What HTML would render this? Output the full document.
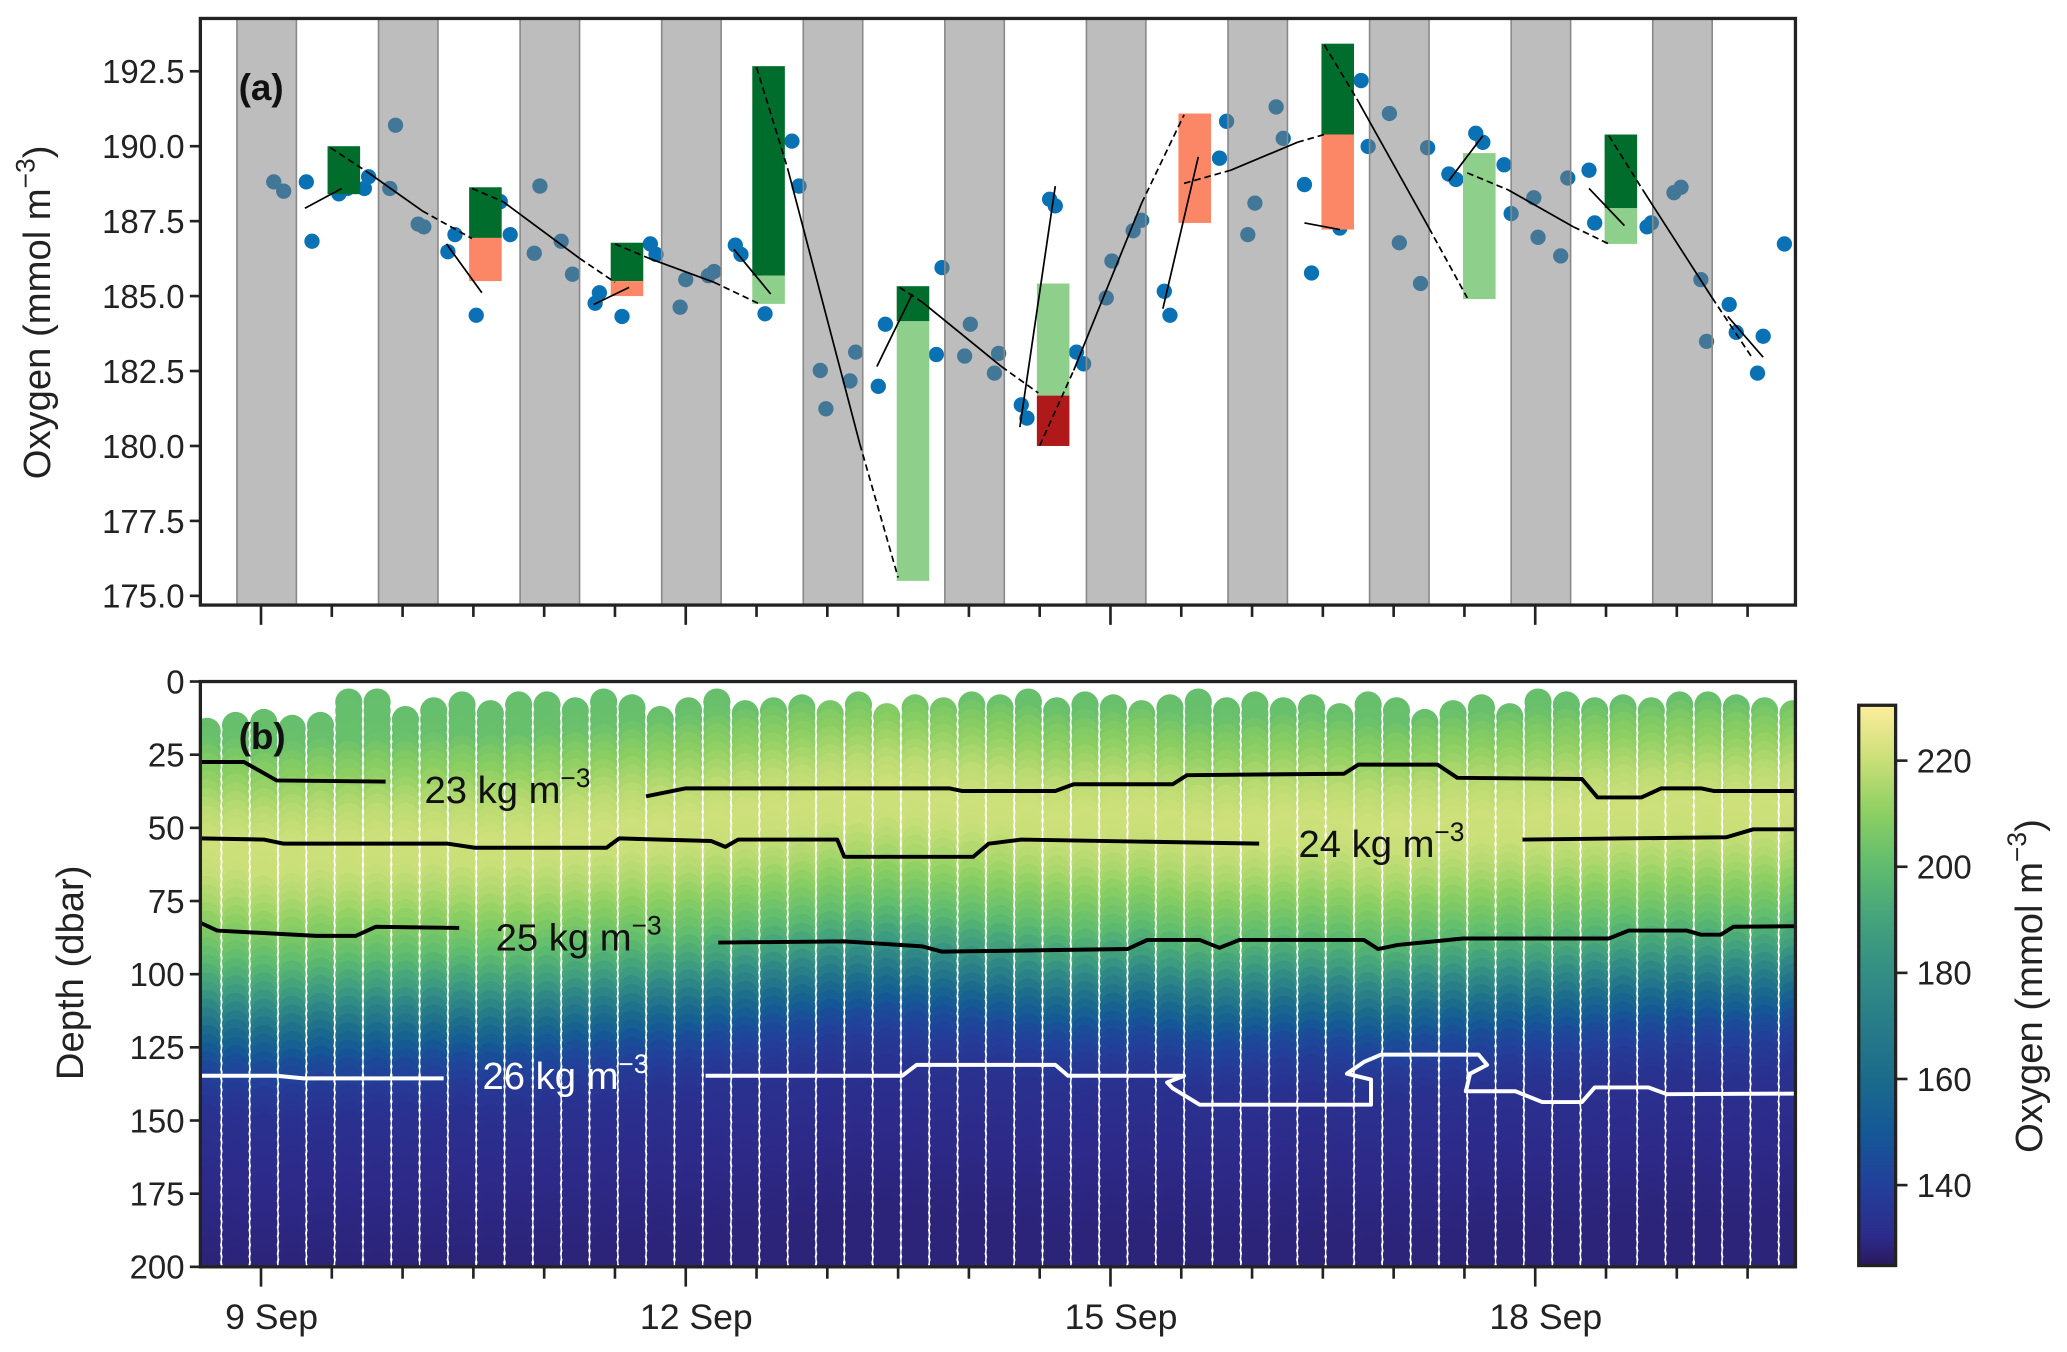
<!DOCTYPE html>
<html><head><meta charset="utf-8">
<style>
html,body{margin:0;padding:0;background:#fff;}
svg{display:block;font-family:"Liberation Sans",Arial,sans-serif;}
</style></head>
<body>
<svg id="fig" width="2067" height="1352" viewBox="0 0 1568 1025.6" xmlns="http://www.w3.org/2000/svg">
<defs>
<clipPath id="clipA"><rect x="152" y="14" width="1210" height="445"/></clipPath>
<clipPath id="clipB"><rect x="152" y="517" width="1210" height="444"/></clipPath>
<linearGradient id="cbGrad" x1="0" y1="1" x2="0" y2="0">
</linearGradient>
</defs>
<g id="panelA"></g>
<g id="panelB"></g>
<g id="cbar"></g>
</svg>
<script>
// ---------- Panel (a) data ----------
const nightStarts = [8.83,9.83,10.83,11.83,12.83,13.83,14.83,15.83,16.83,17.83,18.83];
const nightLength = 0.42;
const dotDays = [9.09,9.16,9.32,9.36,9.55,9.61,9.73,9.76,9.95,9.91,10.11,10.15,10.32,10.37,10.52,10.69,10.76,10.93,10.97,11.12,11.20,11.36,11.39,11.55,11.75,11.79,11.96,12.00,12.16,12.20,12.35,12.39,12.56,12.75,12.80,12.95,12.99,13.16,13.20,13.36,13.41,13.77,13.81,13.97,14.01,14.18,14.21,14.37,14.41,14.57,14.61,14.76,14.81,14.97,15.01,15.16,15.22,15.38,15.42,15.77,15.82,15.97,16.02,16.17,16.22,16.37,16.42,16.62,16.77,16.82,16.97,17.04,17.19,17.24,17.39,17.44,17.58,17.63,17.78,17.83,17.99,18.02,18.18,18.23,18.38,18.42,18.79,18.82,18.98,19.03,19.17,19.21,19.37,19.42,19.57,19.61,19.76];
const dotOxygen = [188.81,188.50,188.81,186.83,188.41,188.59,188.59,188.98,190.70,188.59,187.40,187.31,186.48,187.05,184.36,188.15,187.05,186.43,188.67,186.83,185.73,184.76,185.11,184.32,186.74,186.39,184.63,185.55,185.68,185.82,186.70,186.39,184.41,190.17,188.67,182.52,181.24,182.17,183.13,181.99,184.06,183.05,185.95,183.00,184.06,182.43,183.09,181.37,180.93,188.23,188.01,183.13,182.74,184.94,186.17,187.18,187.53,185.16,184.36,189.60,190.83,187.05,188.10,191.31,190.26,188.72,185.77,187.27,192.19,189.99,191.09,186.78,185.42,189.95,189.07,188.89,190.43,190.13,189.38,187.75,188.28,186.96,186.34,188.94,189.20,187.44,187.31,187.44,188.45,188.63,185.55,183.49,184.72,183.79,182.43,183.66,186.74];
const barStart = [9.47,10.47,11.47,12.47,13.49,14.48,15.48,16.49,17.49,18.49];
const barTop    = [190.0,188.63,186.78,192.67,185.33,185.42,191.09,193.42,189.77,190.39];
const barMid    = [188.4,186.94,185.5,185.68,184.16,181.68,187.44,190.39,184.9,187.93];
const barBottom = [188.4,185.5,185.0,184.74,175.5,180.0,187.44,187.22,184.9,186.74];
const barUpperColor = ['#006d2c','#006d2c','#006d2c','#006d2c','#006d2c','#8ed08b','#fc8767','#006d2c','#8ed08b','#006d2c'];
const barLowerColor = ['#006d2c','#fc8767','#fc8767','#8ed08b','#8ed08b','#b01919','#fc8767','#fc8767','#8ed08b','#8ed08b'];
const barWidth = 0.23;
const lineStart = [[9.31,187.93],[9.49,189.95],[9.76,189.11],[10.14,187.84],[10.31,186.74],[10.49,188.59],[10.71,188.15],[11.25,186.26],[11.35,184.72],[11.50,186.74],[11.74,186.26],[12.20,185.46],[12.34,186.56],[12.50,192.63],[12.72,189.25],[13.23,180.06],[13.35,182.65],[13.51,185.29],[13.67,184.80],[14.23,182.65],[14.36,180.63],[14.50,180.01],[14.74,182.52],[15.22,188.10],[15.37,184.58],[15.52,188.76],[15.85,189.20],[16.32,190.13],[16.37,187.44],[16.51,193.38],[16.74,191.58],[17.25,187.27],[17.39,188.85],[17.52,189.11],[17.81,188.54],[18.27,187.31],[18.38,188.59],[18.52,190.35],[18.76,188.54],[19.25,184.94],[19.36,184.32]];
const lineEnd = [[9.57,188.59],[9.76,189.11],[10.14,187.84],[10.49,186.92],[10.56,185.11],[10.71,188.15],[11.25,186.26],[11.50,185.46],[11.60,185.29],[11.74,186.26],[12.20,185.46],[12.51,184.76],[12.60,185.07],[12.72,189.25],[13.23,180.06],[13.50,175.61],[13.60,185.07],[13.67,184.80],[14.23,182.65],[14.49,181.77],[14.61,188.67],[14.74,182.52],[15.22,188.10],[15.52,191.05],[15.62,189.64],[15.85,189.20],[16.32,190.13],[16.51,190.39],[16.62,187.22],[16.74,191.58],[17.25,187.27],[17.52,184.94],[17.63,190.35],[17.81,188.54],[18.27,187.31],[18.52,186.74],[18.63,187.35],[18.76,188.54],[19.25,184.94],[19.53,182.96],[19.61,182.96]];
const lineDashed = [0,1,0,1,0,1,0,1,0,1,0,1,0,1,0,1,0,1,0,1,0,1,0,1,0,1,0,1,0,1,0,1,0,1,0,1,0,1,0,1,0];
const yTicksA = [175.0,177.5,180.0,182.5,185.0,187.5,190.0,192.5];

// ---------- Panel (b) data ----------
const profileDays = [8.62,8.82,9.02,9.22,9.42,9.62,9.82,10.02,10.22,10.42,10.62,10.82,11.02,11.22,11.42,11.62,11.82,12.02,12.22,12.42,12.62,12.82,13.02,13.22,13.42,13.62,13.82,14.02,14.22,14.42,14.62,14.82,15.02,15.22,15.42,15.62,15.82,16.02,16.22,16.42,16.62,16.82,17.02,17.22,17.42,17.62,17.82,18.02,18.22,18.42,18.62,18.82,19.02,19.22,19.42,19.62,19.82];
const profileTop = [12,10,9,11,10,2,2,8,5,3,6,3,3,5,2,4,8,5,2,6,5,4,6,3,7,4,5,3,4,2,5,3,4,6,4,2,5,3,5,4,7,3,5,9,6,4,7,2,3,5,4,5,3,3,4,5,6];
const profileShift = [2,2,3,3,2,2,1,1,0,0,1,0,-1,-2,-3,-4,-5,-6,-8,-9,-11,-12,-14,-15,-16,-15,-14,-13,-12,-10,-8,-8,-9,-10,-7,-5,-5,-6,-7,-7,-6,-4,-4,-6,-7,-7,-8,-8,-9,-10,-11,-11,-12,-12,-11,-12,-13];
const meanDepth  = [0,20,25,35,45,55,65,75,85,95,105,112,120,130,140,150,170,200,220];
const meanOxygen = [201,202,206,212,218,221,220,215,208,200,188,175,160,145,137,133,130,128,128];
const sigma23 = [[[8.57,27.5],[8.88,27.5],[9.11,33.8],[9.88,34.2]],[[11.72,39.2],[12.0,36.5],[13.86,36.5],[13.95,37.4],[14.61,37.4],[14.74,35.1],[15.44,35.1],[15.54,32],[16.65,31.5],[16.75,28.4],[17.31,28.4],[17.45,32.9],[18.33,33.3],[18.44,39.6],[18.75,39.6],[18.89,36.5],[19.17,36.5],[19.26,37.4],[19.84,37.4]]];
const sigma24 = [[[8.57,53.6],[9.02,54],[9.16,55.4],[10.32,55.4],[10.51,56.8],[11.44,56.8],[11.53,53.6],[12.18,54.5],[12.28,56.5],[12.37,54],[13.07,54],[13.12,59.9],[14.03,59.9],[14.14,55.4],[14.37,54],[16.05,55.4]],[[17.91,54],[19.35,53.2],[19.54,50.5],[19.84,50.5]]];
const sigma25 = [[[8.57,82.4],[8.69,85.1],[9.39,86.9],[9.67,86.9],[9.81,83.8],[10.40,84.2]],[[12.23,89.2],[13.12,88.8],[13.67,90.5],[13.81,92.3],[15.12,91.4],[15.26,88.3],[15.63,88.3],[15.77,91],[15.91,88.3],[16.79,88.3],[16.89,91.4],[17.03,90],[17.49,87.8],[18.52,87.8],[18.66,85.1],[19.07,85.1],[19.17,86.5],[19.31,86.5],[19.40,83.8],[19.84,83.6]]];
const sigma26 = [[[8.57,134.7],[9.11,134.7],[9.30,135.6],[10.29,135.6]],[[12.14,134.7],[13.53,134.7],[13.63,131],[14.61,131],[14.70,134.7],[15.52,134.7],[15.40,137],[15.44,139],[15.63,144.6],[16.84,144.6],[16.84,136],[16.67,134],[16.79,130],[16.91,127.5],[17.60,127.5],[17.66,131],[17.54,134],[17.51,140],[17.86,140],[18.05,143.7],[18.33,143.7],[18.42,138.7],[18.80,138.7],[18.93,141],[19.84,140.8]]];
const yTicksB = [0,25,50,75,100,125,150,175,200];
const dateLabels = ['9 Sep','12 Sep','15 Sep','18 Sep'];
const dateDays = [9,12,15,18];
const cbTicks = [140,160,180,200,220];
const cmapVals = [125,130,140,150,160,170,180,190,200,210,220,230];
const cmapCols = ['#2a1a5e','#2d2a8a','#22409a','#145896','#1b6b8c','#277c88','#338e84','#44a37c','#5fbc6e','#8ccf62','#c9df78','#fbed9b'];

// ---------- scales ----------
const xDay = d => 198 + (d - 9) * 107.4;
const yOx = v => 452 - (v - 175) * 22.74;
const yDep = p => 517 + p * 2.22;
const yCb = v => 899 - (v - 140) * 4.025;
const NS = 'http://www.w3.org/2000/svg';
function mk(tag, attrs, parent) {
  const e = document.createElementNS(NS, tag);
  for (const k in attrs) e.setAttribute(k, attrs[k]);
  parent.appendChild(e);
  return e;
}
function hex2rgb(h){return [parseInt(h.slice(1,3),16),parseInt(h.slice(3,5),16),parseInt(h.slice(5,7),16)];}
function cmap(v){
  if (v <= cmapVals[0]) return cmapCols[0];
  for (let i=1;i<cmapVals.length;i++){
    if (v <= cmapVals[i]){
      const t=(v-cmapVals[i-1])/(cmapVals[i]-cmapVals[i-1]);
      const a=hex2rgb(cmapCols[i-1]), b=hex2rgb(cmapCols[i]);
      return 'rgb('+a.map((c,j)=>Math.round(c+(b[j]-c)*t)).join(',')+')';
    }
  }
  return cmapCols[cmapCols.length-1];
}
function interp(xs, ys, x){
  if (x<=xs[0]) return ys[0];
  for (let i=1;i<xs.length;i++) if (x<=xs[i]) return ys[i-1]+(ys[i]-ys[i-1])*(x-xs[i-1])/(xs[i]-xs[i-1]);
  return ys[ys.length-1];
}

// ---------- Panel A ----------
const A = document.getElementById('panelA');
const aPlot = mk('g', {'clip-path':'url(#clipA)'}, A);
const dotsG = mk('g', {}, aPlot);


dotDays.forEach((d,i)=>{
  const c = mk('circle', {cx:xDay(d), cy:yOx(dotOxygen[i]), r:5.8, fill:'#0a72b4'}, dotsG);
  
  
});
const nightG = mk('g', {}, aPlot);


nightStarts.forEach(s=>{
  const r = mk('rect', {x:xDay(s), y:14, width:xDay(s+nightLength)-xDay(s), height:445, fill:'#7b7b7b', 'fill-opacity':0.5, stroke:'#888', 'stroke-width':1.2}, nightG);
  
  
});
const barsG = mk('g', {}, aPlot);


barStart.forEach((s,i)=>{
  const x = xDay(s), w = xDay(s+barWidth)-xDay(s);
  const r1 = mk('rect', {x:x, y:yOx(barTop[i]), width:w, height:Math.max(0,yOx(barMid[i])-yOx(barTop[i])), fill:barUpperColor[i]}, barsG);
  
  
  const r2 = mk('rect', {x:x, y:yOx(barMid[i]), width:w, height:Math.max(0,yOx(barBottom[i])-yOx(barMid[i])), fill:barLowerColor[i]}, barsG);
  
  
});
const linesG = mk('g', {}, aPlot);


lineStart.forEach((p,i)=>{
  const q = lineEnd[i];
  const l = mk('line', {x1:xDay(p[0]), y1:yOx(p[1]), x2:xDay(q[0]), y2:yOx(q[1]), stroke:'#000', 'stroke-width':1.3}, linesG);
  if (lineDashed[i]) l.setAttribute('stroke-dasharray','5 3');
  
  
});
const frameA = mk('rect', {x:152, y:14, width:1210, height:445, fill:'none', stroke:'#222', 'stroke-width':2.5}, A);


yTicksA.forEach(v=>{
  const y = yOx(v);
  mk('line', {x1:144, y1:y, x2:152, y2:y, stroke:'#222', 'stroke-width':2}, A);
  const t = mk('text', {x:140, y:y+9, 'text-anchor':'end', 'font-size':25, fill:'#222'}, A);
  t.textContent = v.toFixed(1);
  
  
});
for (let k=0;k<22;k++){
  const d = 9 + k*0.5;
  const x = xDay(d);
  const major = dateDays.indexOf(d) >= 0;
  mk('line', {x1:x, y1:459, x2:x, y2:major?474:468, stroke:'#222', 'stroke-width':2}, A);
}
const yLabA = mk('text', {x:38, y:237, transform:'rotate(-90 38 237)', 'text-anchor':'middle', 'font-size':29, fill:'#222'}, A);
yLabA.innerHTML = 'Oxygen (mmol m<tspan dy="-12" font-size="20">−3</tspan><tspan dy="12">)</tspan>';


const labA = mk('text', {x:181, y:76, 'font-size':28, 'font-weight':'bold', fill:'#111'}, A);
labA.textContent = '(a)';



// ---------- Panel B ----------
const B = document.getElementById('panelB');
const bPlot = mk('g', {'clip-path':'url(#clipB)'}, B);
mk('rect', {x:152, y:517, width:1210, height:444, fill:'#fff'}, bPlot);
const colsG = mk('g', {}, bPlot);


profileDays.forEach((d,i)=>{
  const g = mk('g', {}, colsG);
  
  
  const cx = xDay(d);
  for (let p = profileTop[i] + 5; p <= 210; p += 3){
    const v = interp(meanDepth, meanOxygen, p - profileShift[i]);
    mk('circle', {cx:cx, cy:yDep(p), r:10.3, fill:cmap(v)}, g);
  }
});
function drawContour(segs, color, name){
  segs.forEach(seg=>{
    const pl = mk('polyline', {points:seg.map(p=>xDay(p[0])+','+yDep(p[1])).join(' '), fill:'none', stroke:color, 'stroke-width':3, 'stroke-linejoin':'round'}, bPlot);
    
    
  });
}
drawContour(sigma23, '#000', 'isopycnal-23');
drawContour(sigma24, '#000', 'isopycnal-24');
drawContour(sigma25, '#000', 'isopycnal-25');
drawContour(sigma26, '#fff', 'isopycnal-26');
function clabel(x, y, num, color, name){
  const t = mk('text', {x:x, y:y, 'font-size':29, fill:color}, bPlot);
  t.innerHTML = num + ' kg m<tspan dy="-12" font-size="20">−3</tspan>';
  
  
}
clabel(322, 609, '23', '#111', 'isopycnal-label-23');
clabel(985, 650, '24', '#111', 'isopycnal-label-24');
clabel(376, 721, '25', '#111', 'isopycnal-label-25');
clabel(366, 826, '26', '#fff', 'isopycnal-label-26');
const labB = mk('text', {x:181, y:568, 'font-size':28, 'font-weight':'bold', fill:'#111'}, bPlot);
labB.textContent = '(b)';


const frameB = mk('rect', {x:152, y:517, width:1210, height:444, fill:'none', stroke:'#222', 'stroke-width':2.5}, B);


yTicksB.forEach(v=>{
  const y = yDep(v);
  mk('line', {x1:144, y1:y, x2:152, y2:y, stroke:'#222', 'stroke-width':2}, B);
  const t = mk('text', {x:140, y:y+9, 'text-anchor':'end', 'font-size':25, fill:'#222'}, B);
  t.textContent = v;
  
  
});
for (let k=0;k<22;k++){
  const d = 9 + k*0.5;
  const x = xDay(d);
  const major = dateDays.indexOf(d) >= 0;
  mk('line', {x1:x, y1:961, x2:x, y2:major?976:970, stroke:'#222', 'stroke-width':2}, B);
}
dateDays.forEach((d,i)=>{
  const t = mk('text', {x:xDay(d)+8, y:1008, 'text-anchor':'middle', 'font-size':27, fill:'#222'}, B);
  t.textContent = dateLabels[i];
  
  
});
const yLabB = mk('text', {x:63, y:738, transform:'rotate(-90 63 738)', 'text-anchor':'middle', 'font-size':29, fill:'#222'}, B);
yLabB.textContent = 'Depth (dbar)';



// ---------- Colorbar ----------
const C = document.getElementById('cbar');
const grad = document.getElementById('cbGrad');
cmapVals.forEach((v,i)=>{
  mk('stop', {offset:((v-124.8)/(230.4-124.8)).toFixed(4), 'stop-color':cmapCols[i]}, grad);
});
const cbRect = mk('rect', {x:1410, y:535, width:28, height:425, fill:'url(#cbGrad)', stroke:'#222', 'stroke-width':2.5}, C);


cbTicks.forEach(v=>{
  const y = yCb(v);
  mk('line', {x1:1438, y1:y, x2:1447, y2:y, stroke:'#222', 'stroke-width':2}, C);
  const t = mk('text', {x:1454, y:y+9, 'font-size':25, fill:'#222'}, C);
  t.textContent = v;
  
  
});
const cbLab = mk('text', {x:1549, y:748, transform:'rotate(-90 1549 748)', 'text-anchor':'middle', 'font-size':29, fill:'#222'}, C);
cbLab.innerHTML = 'Oxygen (mmol m<tspan dy="-12" font-size="20">−3</tspan><tspan dy="12">)</tspan>';


</script>
</body></html>
